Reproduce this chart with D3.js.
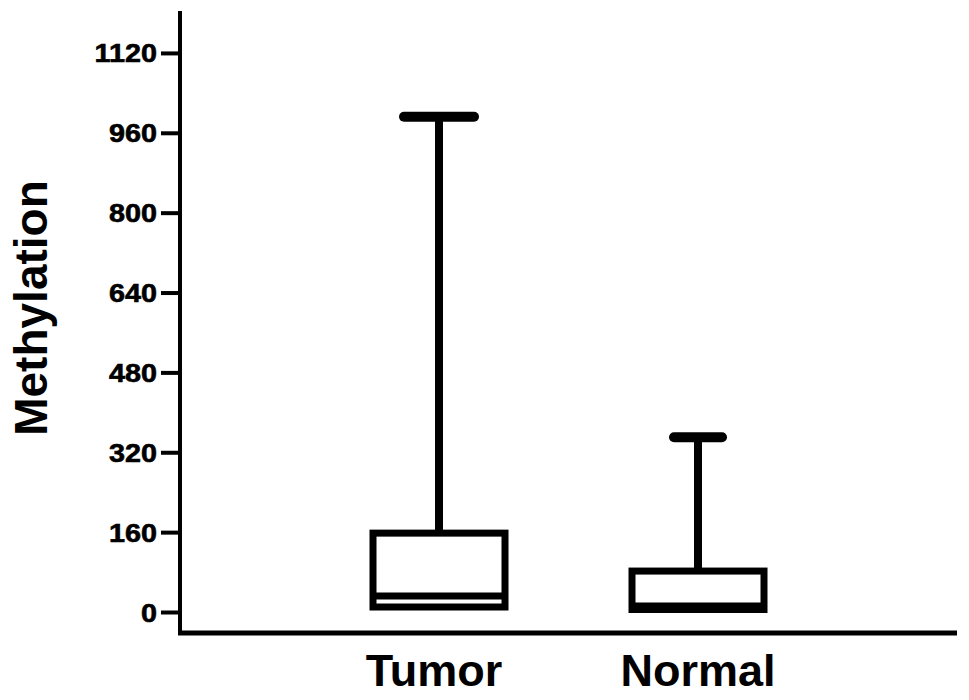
<!DOCTYPE html>
<html>
<head>
<meta charset="utf-8">
<script src="https://cdn.jsdelivr.net/npm/d3@7"></script>
<style>
  html, body { margin: 0; padding: 0; background: #fff; }
  svg { display: block; }
  text { font-family: "Liberation Sans", Arial, sans-serif; font-weight: bold; fill: #000; }
</style>
</head>
<body>
<svg id="chart" width="969" height="700"></svg>
<script>
// ---- Data ----
const categories = ["Tumor", "Normal"];
const whiskerHigh = [992, 350];
const q3 = [158, 82];
const median = [32, 12];
const q1 = [10, 5];
const whiskerLow = [10, 5];
const yTicks = [0, 160, 320, 480, 640, 800, 960, 1120];
const yLabel = "Methylation";

// ---- Styles / layout ----
const capWidth = { Tumor: 80, Normal: 58 };
const svg = d3.select("#chart");
const xLeft = 180, xRight = 957, xAxisY = 633;

const y = d3.scaleLinear().domain([0, 1204]).range([612, 11]);
const x = d3.scalePoint().domain(categories).range([xLeft, xRight]).padding(1);
const boxW = 132;

// y axis
const yAxis = svg.append("g")
  .attr("transform", `translate(${xLeft},0)`)
  .call(d3.axisLeft(y).tickValues(yTicks).tickSize(19).tickSizeOuter(0).tickFormat(d3.format("d")));
yAxis.select(".domain").remove();
yAxis.selectAll(".tick line").attr("stroke", "#000").attr("stroke-width", 4);
yAxis.selectAll(".tick text")
  .attr("x", null).attr("dy", "0.36em")
  .attr("text-anchor", "end")
  .attr("transform", "translate(-23,0) scale(1.15,1)")
  .attr("stroke", "#000").attr("stroke-width", 0.6)
  .style("font-size", "25px")
  .style("font-family", '"Liberation Sans", Arial, sans-serif')
  .style("font-weight", "bold");

// axis lines
svg.append("line")
  .attr("x1", xLeft).attr("x2", xLeft)
  .attr("y1", y.range()[1]).attr("y2", xAxisY + 2)
  .attr("stroke", "#000").attr("stroke-width", 4);
svg.append("line")
  .attr("x1", xLeft - 2).attr("x2", xRight)
  .attr("y1", xAxisY).attr("y2", xAxisY)
  .attr("stroke", "#000").attr("stroke-width", 5);

// x labels
svg.append("g").selectAll("text").data(categories).join("text")
  .attr("x", d => x(d) - (d === "Tumor" ? 5 : 0))
  .attr("y", 686)
  .attr("text-anchor", "middle")
  .style("font-size", "45px")
  .text(d => d);

// y title
svg.append("text")
  .attr("transform", "translate(47,308) rotate(-90)")
  .attr("text-anchor", "middle")
  .style("font-size", "46px")
  .text(yLabel);

// boxes
const data = categories.map((c, i) => ({
  c, hi: whiskerHigh[i], q3: q3[i], med: median[i], q1: q1[i], lo: whiskerLow[i]
}));
const g = svg.append("g").selectAll("g").data(data).join("g");

// upper whisker
g.append("line")
  .attr("x1", d => x(d.c)).attr("x2", d => x(d.c))
  .attr("y1", d => y(d.q3)).attr("y2", d => y(d.hi))
  .attr("stroke", "#000").attr("stroke-width", 8);
// cap
g.append("line")
  .attr("x1", d => x(d.c) - capWidth[d.c] / 2 + 5).attr("x2", d => x(d.c) + capWidth[d.c] / 2 - 5)
  .attr("y1", d => y(d.hi)).attr("y2", d => y(d.hi))
  .attr("stroke", "#000").attr("stroke-width", 10).attr("stroke-linecap", "round");
// lower whisker
g.append("line")
  .attr("x1", d => x(d.c)).attr("x2", d => x(d.c))
  .attr("y1", d => y(d.q1)).attr("y2", d => y(d.lo))
  .attr("stroke", "#000").attr("stroke-width", 8);
// box
g.append("rect")
  .attr("x", d => x(d.c) - boxW / 2)
  .attr("y", d => y(d.q3))
  .attr("width", boxW)
  .attr("height", d => y(d.q1) - y(d.q3))
  .attr("fill", "none").attr("stroke", "#000").attr("stroke-width", 7);
// median
g.append("line")
  .attr("x1", d => x(d.c) - boxW / 2).attr("x2", d => x(d.c) + boxW / 2)
  .attr("y1", d => y(d.med)).attr("y2", d => y(d.med))
  .attr("stroke", "#000").attr("stroke-width", 7);
</script>
</body>
</html>
